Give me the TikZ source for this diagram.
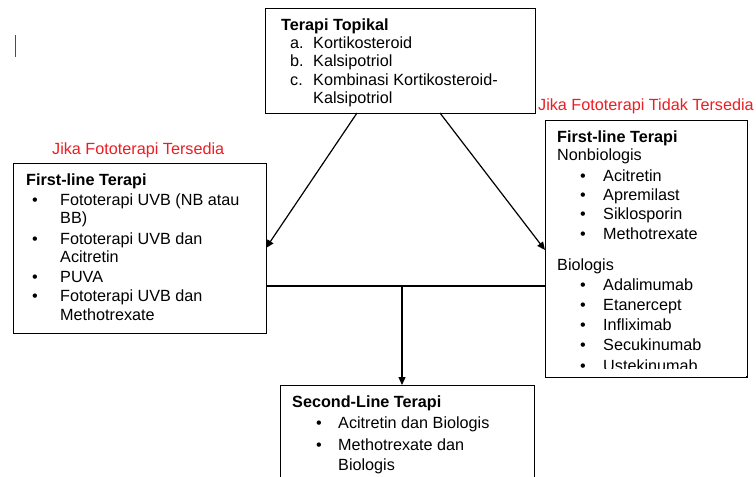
\documentclass[tikz,border=0pt]{standalone}
\usepackage{fontspec}
\setmainfont{Liberation Sans}
\usetikzlibrary{arrows.meta}
\definecolor{lbl}{RGB}{235,30,35}
\begin{document}
\begin{tikzpicture}[x=1pt,y=-1pt,
  box/.style={draw, line width=1.2pt, rectangle, inner sep=0pt, anchor=north west},
  txt/.style={anchor=base west, inner sep=0pt},
  bul/.style={anchor=base, inner sep=0pt},
  conn/.style={line width=1.2pt},
  arr/.style={line width=1.2pt, -{Triangle[length=8pt,width=7pt]}},
  font=\fontsize{16.2}{18}\selectfont]
\clip (0,0) rectangle (756,477);
\useasboundingbox (0,0) rectangle (756,477);
% boxes
\node[box, minimum width=270pt, minimum height=105pt] (top) at (265,8) {};
\node[box, minimum width=253pt, minimum height=170pt] (left) at (13,163) {};
\node[box, minimum width=202pt, minimum height=256pt] (right) at (545,120) {};
\node[box, minimum width=254pt, minimum height=120pt] (bottom) at (280,385) {};
% cursor artifact
\draw[line width=1pt, black!70] (15,35) -- (15,57);
% top box text
\node[txt] (t0) at (281,30) {\bfseries Terapi Topikal};
\node[txt] (ta) at (290,48) {a.};
\node[txt] (tat) at (313,48) {Kortikosteroid};
\node[txt] (tb) at (290,66.5) {b.};
\node[txt] (tbt) at (313,66.5) {Kalsipotriol};
\node[txt] (tc) at (290,85) {c.};
\node[txt] (tct) at (313,85) {Kombinasi Kortikosteroid-};
\node[txt] (tct2) at (313,103.5) {Kalsipotriol};
% labels
\node[txt, text=lbl] (lab1) at (52,154) {Jika Fototerapi Tersedia};
\node[txt, text=lbl] (lab2) at (538,110) {Jika Fototerapi Tidak Tersedia};
% left box text
\node[txt] (l0) at (26,185) {\bfseries First-line Terapi};
\node[bul] (lb1) at (35,205) {•};
\node[txt] (l1) at (60,205) {Fototerapi UVB (NB atau};
\node[txt] (l1b) at (60,223) {BB)};
\node[bul] (lb2) at (35,244) {•};
\node[txt] (l2) at (60,244) {Fototerapi UVB dan};
\node[txt] (l2b) at (60,262) {Acitretin};
\node[bul] (lb3) at (35,282) {•};
\node[txt] (l3) at (60,282) {PUVA};
\node[bul] (lb4) at (35,301) {•};
\node[txt] (l4) at (60,301) {Fototerapi UVB dan};
\node[txt] (l4b) at (60,320) {Methotrexate};
% right box text
\node[txt] (r0) at (557,142) {\bfseries First-line Terapi};
\node[txt] (r1) at (557,160.5) {Nonbiologis};
\node[bul] (rb1) at (583,181) {•};
\node[txt] (r2) at (603,181) {Acitretin};
\node[bul] (rb2) at (583,200) {•};
\node[txt] (r3) at (603,200) {Apremilast};
\node[bul] (rb3) at (583,219) {•};
\node[txt] (r4) at (603,219) {Siklosporin};
\node[bul] (rb4) at (583,239) {•};
\node[txt] (r5) at (603,239) {Methotrexate};
\node[txt] (r6) at (557,270) {Biologis};
\node[bul] (rb5) at (583,290) {•};
\node[txt] (r7) at (603,290) {Adalimumab};
\node[bul] (rb6) at (583,310) {•};
\node[txt] (r8) at (603,310) {Etanercept};
\node[bul] (rb7) at (583,330) {•};
\node[txt] (r9) at (603,330) {Infliximab};
\node[bul] (rb8) at (583,350) {•};
\node[txt] (r10) at (603,350) {Secukinumab};
\node[bul] (rb9) at (583,371) {•};
\node[txt] (r11) at (603,371) {Ustekinumab};
\fill[white] (546,368.5) rectangle (746,390);
\draw[line width=1.2pt] (right.south west) -- (right.south east);
% bottom box text
\node[txt] (b0) at (292,407) {\bfseries Second-Line Terapi};
\node[bul] (bb1) at (319,428) {•};
\node[txt] (b1) at (338,428) {Acitretin dan Biologis};
\node[bul] (bb2) at (319,450) {•};
\node[txt] (b2) at (338,450) {Methotrexate dan};
\node[txt] (b2b) at (338,470) {Biologis};
% connector coordinates
\coordinate (topL) at (357,113);
\coordinate (topR) at (440,113);
\coordinate (leftIn) at (266,248);
\coordinate (rightIn) at (545,250);
\coordinate (leftOut) at (266,286);
\coordinate (rightOut) at (545,286);
\coordinate (join) at (402,286);
\coordinate (botIn) at (402,385);
\draw[arr] (topL) -- (leftIn);
\draw[arr] (topR) -- (rightIn);
\draw[conn] (leftOut) -- (rightOut);
\draw[arr] (join) -- (botIn);
\end{tikzpicture}
\end{document}
